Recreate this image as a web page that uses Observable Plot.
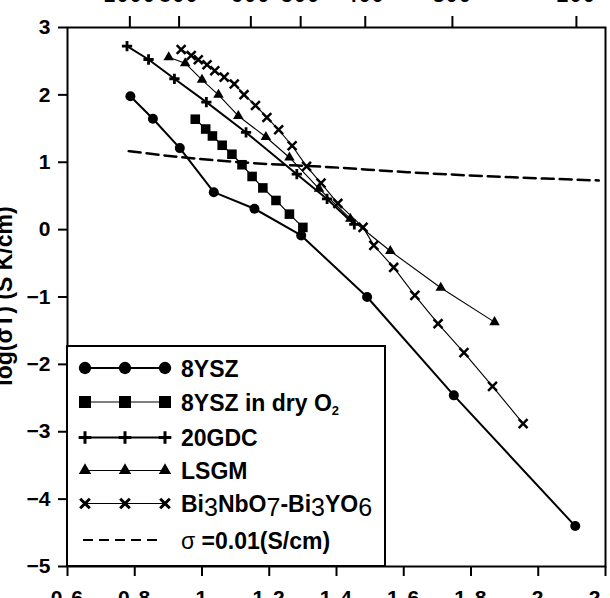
<!DOCTYPE html>
<html><head><meta charset="utf-8">
<script src="https://cdn.jsdelivr.net/npm/d3@7"></script>
<script src="https://cdn.jsdelivr.net/npm/@observablehq/plot@0.6"></script>
<style>
body{margin:0;background:#fff;}
#chart{position:relative;width:610px;height:598px;overflow:hidden;}
</style></head><body><div id="chart"></div>
<script>
// ---- data ----
const xTickValues = [0.6,0.8,1,1.2,1.4,1.6,1.8,2,2.2];
const xTickLabels = ["0.6","0.8","1","1.2","1.4","1.6","1.8","2","2.2"];
const yTickValues = [-5,-4,-3,-2,-1,0,1,2,3];
const topTempLabels = [1000,800,600,500,400,300,200]; // °C
const yTitle = "log(σT) (S K/cm)";

const ysz8X = [0.787,0.854,0.934,1.035,1.156,1.295,1.491,1.749,2.110];
const ysz8Y = [1.98,1.645,1.21,0.556,0.31,-0.086,-1.0,-2.46,-4.40];

const yszDryX = [0.980,1.011,1.031,1.060,1.089,1.119,1.149,1.181,1.220,1.260,1.300];
const yszDryY = [1.639,1.493,1.390,1.252,1.119,0.963,0.789,0.619,0.433,0.230,0.033];

const gdcX = [0.777,0.841,0.918,1.013,1.131,1.282,1.372,1.453];
const gdcY = [2.723,2.525,2.239,1.892,1.442,0.823,0.455,0.077];

const lsgmX = [0.901,0.950,1.000,1.049,1.108,1.190,1.260,1.348,1.441,1.560,1.710,1.870];
const lsgmY = [2.559,2.470,2.224,2.001,1.687,1.375,1.071,0.608,0.162,-0.318,-0.862,-1.373];

const biX = [0.938,0.968,0.989,1.015,1.038,1.066,1.096,1.125,1.159,1.193,1.228,1.268,1.311,1.354,1.404,1.479,1.511,1.570,1.633,1.702,1.779,1.864,1.955];
const biY = [2.674,2.585,2.522,2.447,2.358,2.263,2.162,2.003,1.843,1.665,1.482,1.245,0.939,0.690,0.389,0.033,-0.234,-0.561,-0.976,-1.396,-1.826,-2.326,-2.880];

const sigmaX = [0.782,0.935,1.154,1.382,1.610,2.037,2.18];
const sigmaY = [1.165,1.076,0.987,0.927,0.853,0.755,0.730];

// ---- build tables ----
const table = (xs, ys) => xs.map((x, i) => ({x, y: ys[i]}));
const ysz8 = table(ysz8X, ysz8Y);
const yszDry = table(yszDryX, yszDryY);
const gdc = table(gdcX, gdcY);
const lsgm = table(lsgmX, lsgmY);
const bi = table(biX, biY);
const sigma = table(sigmaX, sigmaY);

const topTickValues = topTempLabels.map(t => 1000 / (t + 273.15));
const xLabelMap = new Map(xTickValues.map((v, i) => [v, xTickLabels[i]]));

const FONT = "'Liberation Sans', Arial, sans-serif";

const chart = Plot.plot({
  width: 610, height: 598,
  marginLeft: 67, marginRight: 5, marginTop: 27, marginBottom: 32,
  x: {domain: [0.6, 2.2]},
  y: {domain: [-5, 3]},
  style: {fontFamily: FONT, fontWeight: "bold", fontSize: "21px", background: "white", color: "black"},
  marks: [
    Plot.axisX({ticks: xTickValues, anchor: "bottom", tickSize: 10, tickPadding: 14, strokeWidth: 2, fontSize: 21, tickFormat: d => xLabelMap.get(d), label: null}),
    Plot.axisX({ticks: topTickValues, anchor: "top", tickSize: 12, tickPadding: 14, strokeWidth: 2, fontSize: 21, tickFormat: d => String(Math.round(1000 / d - 273.15)), label: null}),
    Plot.axisY({ticks: yTickValues, anchor: "left", tickSize: 9, tickPadding: 8, strokeWidth: 2, fontSize: 21, label: null}),
    Plot.line(sigma, {x: "x", y: "y", stroke: "black", strokeWidth: 2.5, strokeDasharray: "12,6", curve: "monotone-x"}),
    Plot.line(ysz8, {x: "x", y: "y", stroke: "black", strokeWidth: 2}),
    Plot.line(yszDry, {x: "x", y: "y", stroke: "black", strokeWidth: 1.2}),
    Plot.line(gdc, {x: "x", y: "y", stroke: "black", strokeWidth: 2}),
    Plot.line(lsgm, {x: "x", y: "y", stroke: "black", strokeWidth: 1.1}),
    Plot.line(bi, {x: "x", y: "y", stroke: "black", strokeWidth: 1.1}),
    Plot.dot(ysz8, {x: "x", y: "y", symbol: "circle", r: 5, fill: "black"}),
    Plot.dot(yszDry, {x: "x", y: "y", symbol: "square", r: 5.4, fill: "black"}),
    Plot.dot(gdc, {x: "x", y: "y", symbol: "plus", r: 3.4, stroke: "black", strokeWidth: 2.8}),
    Plot.dot(lsgm, {x: "x", y: "y", symbol: "triangle", r: 3.9, fill: "black"}),
    Plot.dot(bi, {x: "x", y: "y", symbol: "times", r: 4.1, stroke: "black", strokeWidth: 2.5}),
    Plot.frame({stroke: "black", strokeWidth: 2})
  ]
});

document.getElementById("chart").appendChild(chart);

const svg = d3.select(chart);
svg.selectAll('[aria-label="x-axis tick label"] text').attr("letter-spacing", "1.5px");

// y-axis title
svg.append("text")
  .attr("transform", "translate(12,296) rotate(-90)")
  .attr("text-anchor", "middle")
  .attr("font-family", FONT).attr("font-weight", "bold").attr("font-size", 23)
  .attr("fill", "black")
  .text(yTitle);

// ---- legend ----
const leg = svg.append("g").attr("text-anchor", "start");
leg.append("rect").attr("x", 67).attr("y", 346).attr("width", 318).attr("height", 220)
  .attr("fill", "white").attr("stroke", "black").attr("stroke-width", 2);

const rows = [
  {y: 368, type: d3.symbolCircle, size: 120, fill: true, lw: 2},
  {y: 402, type: d3.symbolSquare, size: 144, fill: true, lw: 1.2},
  {y: 437.5, type: d3.symbolPlus, size: 55, fill: false, lw: 2, sw: 3},
  {y: 470.5, type: d3.symbolTriangle, size: 66, fill: true, lw: 1.1},
  {y: 503.5, type: d3.symbolTimes, size: 62, fill: false, lw: 1.1, sw: 3}
];
const mx = [85, 125, 165];
rows.forEach(r => {
  leg.append("line").attr("x1", mx[0]).attr("x2", mx[2]).attr("y1", r.y).attr("y2", r.y)
    .attr("stroke", "black").attr("stroke-width", r.lw);
  mx.forEach(x => {
    leg.append("path").attr("d", d3.symbol().type(r.type).size(r.size)())
      .attr("transform", `translate(${x},${r.y})`)
      .attr("fill", r.fill ? "black" : "none")
      .attr("stroke", r.fill ? "none" : "black")
      .attr("stroke-width", r.sw || 0);
  });
});
leg.append("line").attr("x1", 83).attr("x2", 162).attr("y1", 540).attr("y2", 540)
  .attr("stroke", "black").attr("stroke-width", 2).attr("stroke-dasharray", "10,6");

const tx = 181;
const mk = (y) => leg.append("text").attr("x", tx).attr("y", y).attr("text-anchor", "start")
  .attr("font-family", FONT).attr("font-weight", "bold").attr("font-size", 23).attr("fill", "black");
mk(376.5).text("8YSZ");
{ const t = mk(410.5); t.append("tspan").text("8YSZ in dry O");
  t.append("tspan").attr("font-size", 13).attr("dy", 4).text("2"); }
mk(446).text("20GDC");
mk(479).text("LSGM");
{ const t = mk(512);
  const parts = [["Bi",0],["3",1],["NbO",0],["7",1],["-Bi",0],["3",1],["YO",0],["6",1]];
  let down = false;
  parts.forEach(([s, sub]) => {
    const sp = t.append("tspan").text(s);
    if (sub) { sp.attr("font-size", 25).attr("font-weight", "normal"); }
    if (sub && !down) { sp.attr("dy", 4); down = true; }
    else if (!sub && down) { sp.attr("dy", -4); down = false; }
  });
}
{ const t = mk(548.5);
  t.append("tspan").attr("font-weight", "normal").text("σ");
  t.append("tspan").text(" =0.01(S/cm)"); }
</script></body></html>
